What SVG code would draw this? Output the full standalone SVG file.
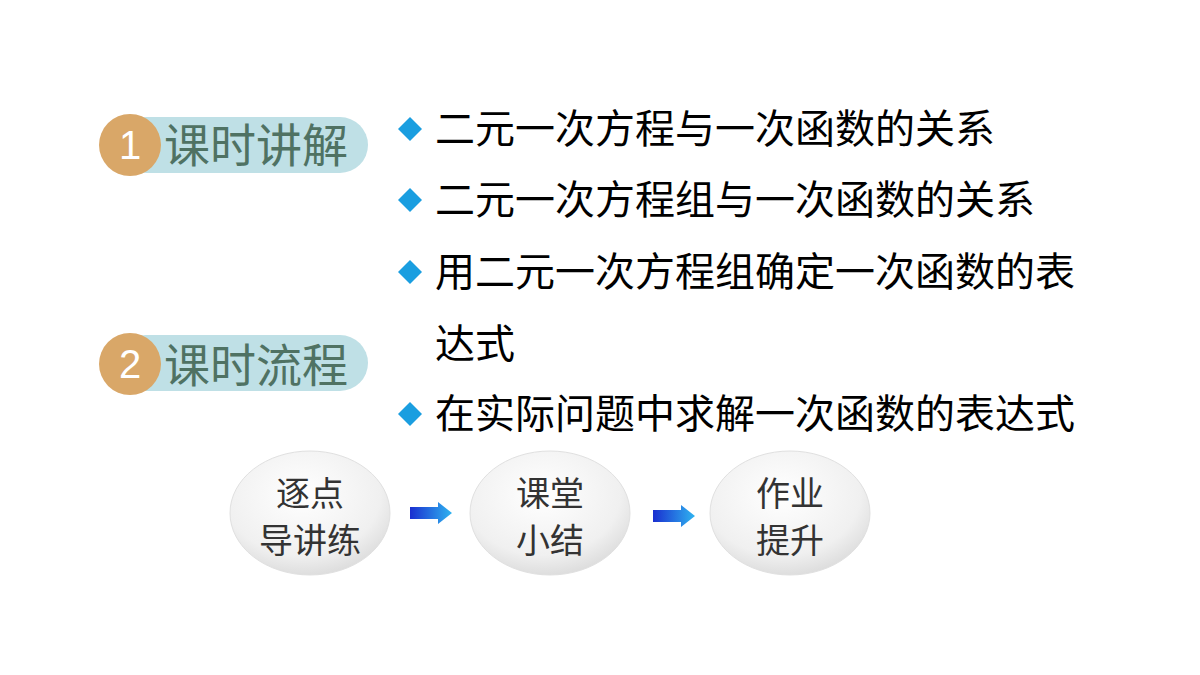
<svg xmlns="http://www.w3.org/2000/svg" width="1200" height="675" viewBox="0 0 1200 675">
<defs>
<style>
.hd{font-family:"Noto Sans CJK SC",sans-serif;font-size:46px;fill:#4f7263}
.num{font-family:"Liberation Sans",sans-serif;font-size:40px;fill:#fff}
.tx{font-family:"Noto Sans CJK SC",sans-serif;font-size:40px;fill:#000}
.nd{font-family:"Noto Sans CJK SC",serif;font-size:34px;fill:#333;text-anchor:middle}
.dm{fill:#1a9ee0}
</style>
<radialGradient id="g" cx="0.45" cy="0.35" r="0.7">
<stop offset="0" stop-color="#ffffff"/><stop offset="0.7" stop-color="#f0f0f0"/><stop offset="1" stop-color="#d8d8d8"/>
</radialGradient>
<linearGradient id="ar" x1="0" x2="1"><stop offset="0" stop-color="#1a2fd0"/><stop offset="1" stop-color="#2fb4f0"/></linearGradient>
<symbol id="arrow" viewBox="0 0 42 22"><path d="M0 5H28V0L42 11L28 22V17H0Z" fill="url(#ar)"/></symbol>
</defs>
<rect width="1200" height="675" fill="#fff"/>
<g id="h1">
<rect x="118" y="117" width="250" height="56" rx="28" fill="#bfe0e6"/>
<circle cx="130" cy="145" r="31" fill="#d9a768"/>
<text x="130" y="159" class="num" text-anchor="middle">1</text>
<text x="164" y="162" class="hd">课时讲解</text>
</g>
<g id="h2">
<rect x="118" y="335" width="250" height="56" rx="28" fill="#bfe0e6"/>
<circle cx="130" cy="364" r="31" fill="#d9a768"/>
<text x="130" y="378" class="num" text-anchor="middle">2</text>
<text x="164" y="382" class="hd">课时流程</text>
</g>
<g id="bullets">
<path class="dm" d="M410 117L422 129L410 141L398 129Z"/>
<text x="435" y="143" class="tx">二元一次方程与一次函数的关系</text>
<path class="dm" d="M410 188L422 200L410 212L398 200Z"/>
<text x="435" y="214" class="tx">二元一次方程组与一次函数的关系</text>
<path class="dm" d="M410 260L422 272L410 284L398 272Z"/>
<text x="435" y="286" class="tx">用二元一次方程组确定一次函数的表</text>
<text x="435" y="358" class="tx">达式</text>
<path class="dm" d="M410 402L422 414L410 426L398 414Z"/>
<text x="435" y="428" class="tx">在实际问题中求解一次函数的表达式</text>
</g>
<g id="n1">
<ellipse cx="310" cy="513" rx="80" ry="62" fill="url(#g)" stroke="#e0e0e0"/>
<text x="310" y="506" class="nd">逐点</text>
<text x="310" y="553" class="nd">导讲练</text>
</g>
<g id="n2">
<ellipse cx="550" cy="513" rx="80" ry="62" fill="url(#g)" stroke="#e0e0e0"/>
<text x="550" y="506" class="nd">课堂</text>
<text x="550" y="553" class="nd">小结</text>
</g>
<g id="n3">
<ellipse cx="790" cy="513" rx="80" ry="62" fill="url(#g)" stroke="#e0e0e0"/>
<text x="790" y="506" class="nd">作业</text>
<text x="790" y="553" class="nd">提升</text>
</g>
<g id="connectors">
<use href="#arrow" x="410" y="502" width="42" height="22"/>
<use href="#arrow" x="653" y="505" width="42" height="22"/>
</g>
</svg>
